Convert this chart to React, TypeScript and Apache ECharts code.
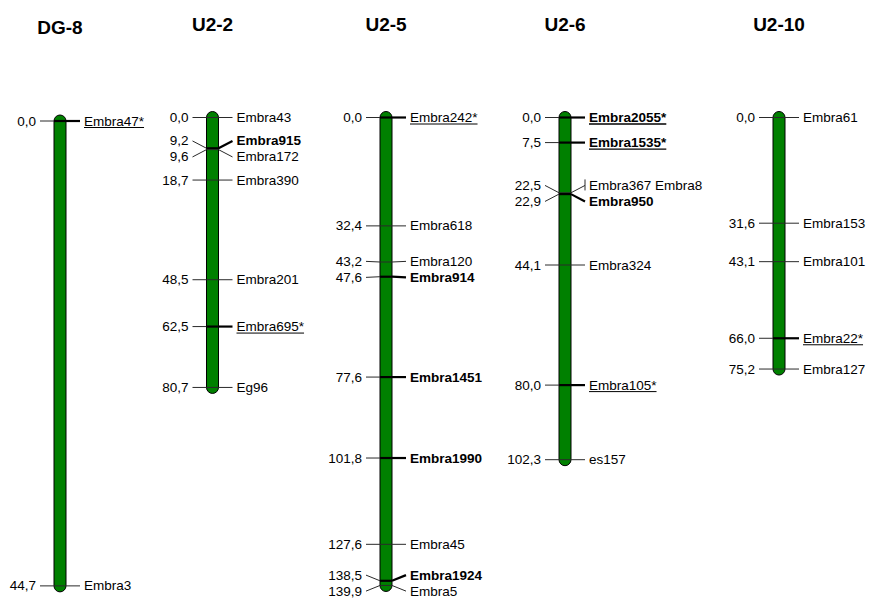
import React, { useEffect, useRef } from 'react';
import * as echarts from 'echarts';

// ---------- data ----------
const groupNames = ['DG-8', 'U2-2', 'U2-5', 'U2-6', 'U2-10'];

const dg8Positions = [0.0, 44.7];
const dg8Markers = ['Embra47*', 'Embra3'];

const u22Positions = [0.0, 9.2, 9.6, 18.7, 48.5, 62.5, 80.7];
const u22Markers = ['Embra43', 'Embra915', 'Embra172', 'Embra390', 'Embra201', 'Embra695*', 'Eg96'];

const u25Positions = [0.0, 32.4, 43.2, 47.6, 77.6, 101.8, 127.6, 138.5, 139.9];
const u25Markers = ['Embra242*', 'Embra618', 'Embra120', 'Embra914', 'Embra1451', 'Embra1990', 'Embra45', 'Embra1924', 'Embra5'];

const u26Positions = [0.0, 7.5, 22.5, 22.9, 44.1, 80.0, 102.3];
const u26Markers = ['Embra2055*', 'Embra1535*', 'Embra367 Embra8', 'Embra950', 'Embra324', 'Embra105*', 'es157'];

const u210Positions = [0.0, 31.6, 43.1, 66.0, 75.2];
const u210Markers = ['Embra61', 'Embra153', 'Embra101', 'Embra22*', 'Embra127'];

const boldMarkers = ['Embra915', 'Embra914', 'Embra1451', 'Embra1990', 'Embra1924', 'Embra950', 'Embra2055*', 'Embra1535*'];
const bracketMarkers = ['Embra367 Embra8'];

const groupPositions = [dg8Positions, u22Positions, u25Positions, u26Positions, u210Positions];
const groupMarkers = [dg8Markers, u22Markers, u25Markers, u26Markers, u210Markers];

// ---------- layout ----------
const centers = [60, 212.5, 386, 565, 779];
const tops = [121, 117.5, 117.5, 117.5, 117.5];
const pxPerUnit = [10.4, 3.345, 3.345, 3.345, 3.345];
const titleYs = [27, 24, 24, 24, 24];

const FONT_FAMILY = '"Liberation Sans", Arial, Helvetica, sans-serif';
const LABEL_SIZE = 13.5;
const TITLE_SIZE = 19;
const BAR_W = 12;
const TICK_L = 14;
const TEXT_GAP = 4;
const LABEL_GAP = 16;
const THIN = '#2a2a2a';

let measureCtx: CanvasRenderingContext2D | null = null;
function textWidth(t: string, font: string) {
  if (!measureCtx) measureCtx = document.createElement('canvas').getContext('2d');
  if (!measureCtx) return t.length * 7;
  measureCtx.font = font;
  return measureCtx.measureText(t).width;
}

function spreadLabels(ideal: number[], gap: number) {
  let clusters = ideal.map((y, i) => ({ idx: [i], mean: y }));
  let changed = true;
  while (changed) {
    changed = false;
    for (let k = 0; k < clusters.length - 1; k++) {
      const a = clusters[k];
      const b = clusters[k + 1];
      const aEnd = a.mean + ((a.idx.length - 1) * gap) / 2;
      const bStart = b.mean - ((b.idx.length - 1) * gap) / 2;
      if (bStart - aEnd < gap) {
        const idx = a.idx.concat(b.idx);
        const mean = idx.reduce((s, j) => s + ideal[j], 0) / idx.length;
        clusters.splice(k, 2, { idx, mean });
        changed = true;
        break;
      }
    }
  }
  const out: number[] = new Array(ideal.length);
  clusters.forEach((c) => {
    c.idx.forEach((j, n) => {
      out[j] = c.mean + (n - (c.idx.length - 1) / 2) * gap;
    });
  });
  return out;
}

function fmt(v: number) {
  return v.toFixed(1).replace('.', ',');
}

export default function App() {
  const ref = useRef<HTMLDivElement>(null);

  useEffect(() => {
    if (!ref.current) return;
    const chart = echarts.init(ref.current, undefined, { renderer: 'svg' });

    const grids: any[] = [];
    const xAxes: any[] = [];
    const yAxes: any[] = [];
    const series: any[] = [];
    const graphics: any[] = [];

    groupNames.forEach((name, k) => {
      const positions = groupPositions[k];
      const markers = groupMarkers[k];
      const length = positions[positions.length - 1];
      grids.push({
        left: centers[k] - 50,
        width: 100,
        top: tops[k],
        height: length * pxPerUnit[k],
      });
      xAxes.push({ type: 'value', gridIndex: k, min: -1, max: 1, show: false });
      yAxes.push({ type: 'value', gridIndex: k, min: 0, max: length, inverse: true, show: false });

      graphics.push({
        type: 'text',
        x: centers[k],
        y: titleYs[k],
        style: {
          text: name,
          align: 'center',
          verticalAlign: 'middle',
          fill: '#000',
          font: `bold ${TITLE_SIZE}px ${FONT_FAMILY}`,
        },
      });

      // chromosome bar
      series.push({
        type: 'custom',
        name: name + ' bar',
        xAxisIndex: k,
        yAxisIndex: k,
        z: 1,
        silent: true,
        data: [[0, positions[0], length]],
        encode: { x: 0, y: [1, 2] },
        renderItem: (params: any, api: any) => {
          const p0 = api.coord([api.value(0), api.value(1)]);
          const p1 = api.coord([api.value(0), api.value(2)]);
          const r = BAR_W / 2;
          return {
            type: 'rect',
            shape: { x: p0[0] - r, y: p0[1] - r, width: BAR_W, height: p1[1] - p0[1] + BAR_W, r },
            style: { fill: '#008000', stroke: '#000', lineWidth: 1 },
          };
        },
      });

      // markers
      series.push({
        type: 'custom',
        name: name + ' markers',
        xAxisIndex: k,
        yAxisIndex: k,
        z: 2,
        silent: true,
        data: positions.map((p) => [0, p]),
        encode: { x: 0, y: 1 },
        renderItem: (params: any, api: any) => {
          const i = params.dataIndex;
          const ys = positions.map((p) => api.coord([0, p])[1]);
          const labelYs = spreadLabels(ys, LABEL_GAP);
          const cx = api.coord([0, positions[i]])[0];
          const my = ys[i];
          const ly = labelYs[i];
          const bl = cx - BAR_W / 2;
          const br = cx + BAR_W / 2;
          const mName = markers[i];
          const bold = boldMarkers.indexOf(mName) >= 0;
          const underline = mName.endsWith('*');
          const strong = bold || underline;
          const font = `${bold ? 'bold ' : ''}${LABEL_SIZE}px ${FONT_FAMILY}`;
          const children: any[] = [];
          // left connector
          children.push({
            type: 'line',
            shape: { x1: bl - TICK_L, y1: ly, x2: bl, y2: my },
            style: { stroke: THIN, lineWidth: 1 },
          });
          // across bar
          children.push({
            type: 'line',
            shape: { x1: bl, y1: my, x2: br, y2: my },
            style: { stroke: strong ? '#000' : THIN, lineWidth: strong ? 2.2 : 1 },
          });
          // right connector
          children.push({
            type: 'line',
            shape: { x1: br, y1: my, x2: br + TICK_L, y2: ly },
            style: { stroke: strong ? '#000' : THIN, lineWidth: strong ? 2.2 : 1 },
          });
          if (bracketMarkers.indexOf(mName) >= 0) {
            children.push({
              type: 'line',
              shape: { x1: br + TICK_L, y1: ly - 6, x2: br + TICK_L, y2: ly + 5 },
              style: { stroke: THIN, lineWidth: 1 },
            });
          }
          // value label
          children.push({
            type: 'text',
            x: bl - TICK_L - TEXT_GAP,
            y: ly,
            style: {
              text: fmt(positions[i]),
              align: 'right',
              verticalAlign: 'middle',
              fill: '#000',
              font: `${LABEL_SIZE}px ${FONT_FAMILY}`,
            },
          });
          // marker name
          const tx = br + TICK_L + TEXT_GAP;
          children.push({
            type: 'text',
            x: tx,
            y: ly,
            style: { text: mName, align: 'left', verticalAlign: 'middle', fill: '#000', font },
          });
          if (underline) {
            const w = textWidth(mName, font);
            children.push({
              type: 'line',
              shape: { x1: tx, y1: ly + 6.5, x2: tx + w, y2: ly + 6.5 },
              style: { stroke: '#000', lineWidth: bold ? 1.3 : 1 },
            });
          }
          return { type: 'group', children };
        },
      });
    });

    chart.setOption({
      animation: false,
      backgroundColor: '#ffffff',
      grid: grids,
      xAxis: xAxes,
      yAxis: yAxes,
      series,
      graphic: graphics,
    });

    return () => {
      chart.dispose();
    };
  }, []);

  return (
    <div
      ref={ref}
      style={{ position: 'absolute', left: 0, top: 0, width: 869, height: 598, background: '#fff' }}
    />
  );
}
